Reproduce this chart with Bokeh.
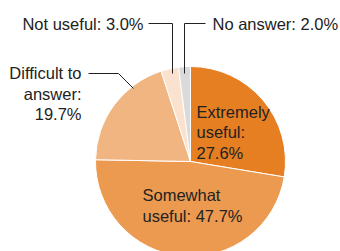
import math
from bokeh.plotting import figure
from bokeh.models import Range1d, ColumnDataSource
from bokeh.core.properties import value
from bokeh.embed import file_html
from bokeh.resources import INLINE

categories = ["Extremely useful", "Somewhat useful", "Difficult to answer", "Not useful", "No answer"]
shares = [27.6, 47.7, 19.7, 3.0, 2.0]
labels = ["Extremely\nuseful:\n27.6%", "Somewhat\nuseful: 47.7%", "Difficult to\nanswer:\n19.7%",
          "Not useful: 3.0%", "No answer: 2.0%"]
colors = ["#E67E22", "#EB9A50", "#F1B581", "#FBE2CE", "#DADADA"]

W, H = 340, 251
p = figure(width=W, height=H, output_backend="svg", toolbar_location=None,
           x_range=Range1d(0, W), y_range=Range1d(-H, 0),
           min_border=0, outline_line_color=None)
p.axis.visible = False
p.grid.visible = False
p.background_fill_color = "white"
p.border_fill_color = "white"

cx, cy, r = 190, -161, 95
total = sum(shares)
starts, ends = [], []
acc = 0.0
for s in shares:
    starts.append(math.pi / 2 - 2 * math.pi * acc / total)
    acc += s
    ends.append(math.pi / 2 - 2 * math.pi * acc / total)

src = ColumnDataSource(dict(start=starts, end=ends, color=colors, cat=categories))
p.wedge(x=cx, y=cy, radius=r, start_angle="start", end_angle="end", direction="clock",
        fill_color="color", line_color="white", line_width=1, source=src)

# leader lines
p.line([148, 172, 172], [-23, -23, -73], line_color="#222222", line_width=1)
p.line([205, 184, 184], [-23, -23, -73], line_color="#222222", line_width=1)
p.line([88, 118, 133], [-73, -73, -88], line_color="#222222", line_width=1)

font = value("Liberation Sans")
lx = [196, 142, 81, 143, 212]
ly = [-132, -205, -93.3, -23, -23]
align = ["left", "left", "right", "right", "left"]
tsrc = ColumnDataSource(dict(x=lx, y=ly, t=labels, a=align))
p.text(x="x", y="y", text="t", text_align="a", text_baseline="middle", source=tsrc,
       text_font=font, text_font_size="16.5px", text_color="#222222", text_line_height=1.15)

open("out.html", "w").write(file_html(p, INLINE))
